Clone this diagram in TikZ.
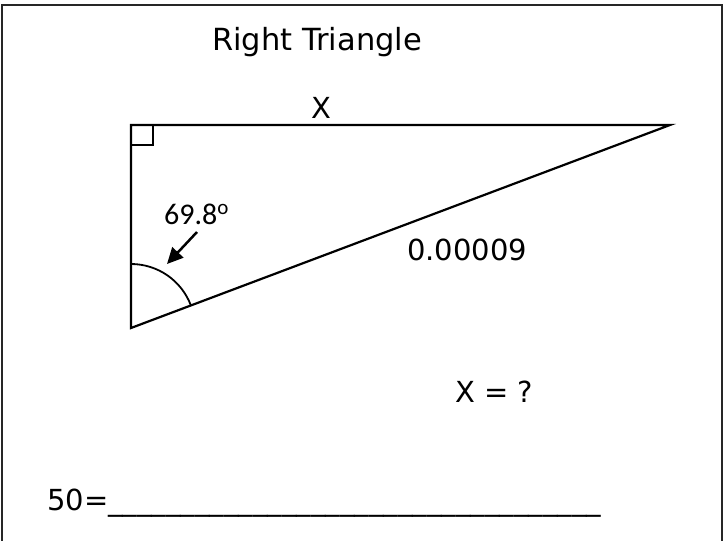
\documentclass[tikz,border=0pt]{standalone}
\usepackage{fontspec}
\setmainfont{DejaVu Sans}
\newfontfamily\carl{Carlito}
\usetikzlibrary{arrows.meta}
\begin{document}
\begin{tikzpicture}[x=1pt,y=-1pt,
  txt/.style={inner sep=0pt, anchor=base west, font=\fontsize{29}{34}\selectfont},
  edge/.style={line width=2.2pt, line join=miter},
  frame/.style={line width=2pt, draw=black!85}]
\useasboundingbox (0,0) rectangle (726,541);
\coordinate (f1) at (2,541);
\coordinate (f2) at (2,5);
\coordinate (f3) at (722,5);
\coordinate (f4) at (722,541);
\draw[frame] (f1) -- (f2) -- (f3) -- (f4);
\coordinate (A) at (131,125);
\coordinate (B) at (670,125);
\coordinate (C) at (131,328);
\draw[edge] (A) -- (B) -- (C) -- cycle;
\coordinate (s1) at (131,145);
\coordinate (s2) at (153,145);
\coordinate (s3) at (153,125);
\draw[line width=1.8pt] (s1) -- (s2) -- (s3);
\draw[line width=1.8pt] (C) ++(-90:64) arc[start angle=-90, end angle=-20.6, radius=64];
\node[txt, font=\fontsize{30.5}{36}\selectfont] (title) at (212,50) {Right Triangle};
\node[txt] (x) at (311,118) {X};
\node[txt] (hyp) at (407,260) {0.00009};
\node[txt] (q) at (455,402) {X = ?};
\node[txt] (ans) at (47,510) {50=\_\_\_\_\_\_\_\_\_\_\_\_\_\_\_\_\_\_\_\_\_\_\_\_\_\_\_\_\_\_\_\_\_\_};
\node[inner sep=0pt, anchor=base west, font=\carl\fontsize{30}{34}\selectfont] (ang) at (164,224) {69.8\textsuperscript{o}};
\coordinate (t) at (197,232);
\coordinate (h) at (167,264);
\draw[line width=2.5pt, -{Triangle[length=16pt,width=15pt]}] (t) -- (h);
\end{tikzpicture}
\end{document}
